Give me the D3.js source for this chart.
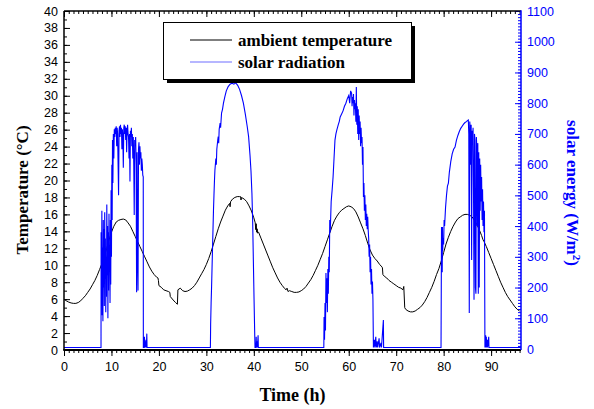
<!DOCTYPE html>
<html><head><meta charset="utf-8">
<script src="https://cdn.jsdelivr.net/npm/d3@7"></script>
<style>body{margin:0;background:#fff}svg{display:block}</style>
</head><body>
<svg id="c" width="594" height="409"></svg>
<script>
// ---------- data ----------
const timeTicks = [0,10,20,30,40,50,60,70,80,90];
const tempTicks = [0,2,4,6,8,10,12,14,16,18,20,22,24,26,28,30,32,34,36,38,40];
const solarTicks = [0,100,200,300,400,500,600,700,800,900,1000,1100];
const seriesNames = ["ambient temperature","solar radiation"];

// [time h, temperature °C]
const temperature = [
[0,6.0],[0.5,5.8],[1,5.65],[1.5,5.55],[2,5.5],[2.5,5.5],[3,5.6],[3.5,5.8],[4,6.1],[4.5,6.4],[5,6.8],[5.5,7.2],[6,7.7],[6.5,8.2],[7,8.8],[7.5,9.5],[8,10.2],[8.5,11.0],[9,12.0],[9.5,13.0],[10,13.9],[10.5,14.6],[11,15.1],[11.5,15.3],[12,15.4],[12.5,15.45],[13,15.35],[13.5,15.0],[14,14.6],[14.5,14.0],[15,13.4],[15.5,12.8],[16,12.2],[16.5,11.6],[17,11.0],[17.5,10.4],[18,9.8],[18.5,9.3],[19,8.9],[19.5,8.6],[19.8,8.5],[19.9,8.2],[20,7.6],[20.5,7.4],[21,7.1],[21.5,7.0],[22,6.9],[22.3,6.8],[22.4,6.3],[23,5.9],[23.5,5.6],[23.9,5.4],[24,7.1],[24.5,7.3],[25,7.0],[25.5,6.9],[26,6.95],[26.5,7.1],
[27,7.3],[27.5,7.6],[28,8.0],[28.5,8.5],[29,9.0],[29.5,9.5],[30,10.1],[30.5,10.8],[31,11.6],[31.5,12.5],[32,13.4],[32.5,14.3],[33,15.1],[33.5,15.8],[34,16.5],[34.5,17.0],[34.9,17.3],[35.0,16.9],[35.1,17.5],[35.5,17.8],[36,18.0],[36.5,18.1],[37,18.1],[37.2,18.1],[37.3,17.7],[37.4,18.0],[38,17.8],[38.5,17.5],[39,17.0],[39.5,16.4],[40,15.6],[40.3,15.0],[40.4,14.2],[40.5,14.9],[40.6,13.9],[40.7,14.3],[40.8,13.8],[41,13.9],[41.5,13.2],[42,12.5],[42.5,11.8],[43,11.1],[43.5,10.4],[44,9.7],[44.5,9.1],[45,8.5],[45.5,8.0],[46,7.6],[46.5,7.25],[46.8,7.1],[47,7.3],[47.2,6.9],[47.5,7.0],[48,6.9],[48.5,6.8],[49,6.8],[49.5,6.85],[50,7.0],[50.5,7.2],[51,7.5],[51.5,7.9],[52,8.3],[52.5,8.8],[53,9.4],[53.5,10.0],[54,10.7],[54.5,11.4],[55,12.2],[55.5,13.0],[56,13.8],[56.5,14.6],[57,15.3],[57.5,15.8],[58,16.2],[58.5,16.5],[59,16.7],[59.5,16.9],[60,17.0],[60.5,16.9],[61,16.7],[61.5,16.3],[62,15.7],[62.5,15.0],[63,14.3],[63.5,13.5],[64,12.6],[64.5,11.8],[65,11.2],[65.5,10.8],[66,10.5],[66.5,10.1],[67,9.8],[67.1,9.7],[67.2,8.9],[67.5,8.7],[68,8.5],[68.5,8.2],[69,8.0],[69.5,7.8],[70,7.6],[70.5,7.4],[71,7.3],[71.4,7.1],[71.6,7.5],[71.8,5.0],[72,4.8],[72.5,4.6],[73,4.5],[73.5,4.5],[74,4.6],[74.5,4.8],[75,5.0],[75.5,5.3],[76,5.7],[76.5,6.2],[77,6.8],[77.5,7.4],[78,8.1],[78.5,8.9],[79,9.6],[79.5,10.5],[80,11.5],[80.5,12.5],[81,13.3],[81.5,14.0],[82,14.6],[82.5,15.1],[83,15.5],[83.5,15.7],[84,15.9],[84.5,16.0],[85,16.0],[85.5,15.9],[86,15.7],[86.5,15.3],[87,14.8],[87.5,14.2],[88,13.5],[88.3,13.0],[88.5,12.8],[89,12.2],[89.5,11.5],[90,10.8],[90.5,10.1],[91,9.4],[91.5,8.7],[92,8.0],[92.5,7.4],[93,6.8],[93.5,6.3],[94,5.9],[94.5,5.5],[95,5.1],[95.5,4.8],[96,4.6]
];

// [time h, solar radiation W/m2]
const solar = [
[0,5],[7.75,5],
[7.8,5],[7.82,380],[7.9,150],[7.98,450],[8.05,110],[8.12,330],[8.2,90],[8.28,420],[8.35,200],[8.42,390],[8.5,140],[8.58,445],[8.65,230],[8.72,360],[8.8,120],[8.88,300],[8.95,170],[9.02,470],[9.1,240],[9.18,400],[9.25,100],[9.32,380],[9.4,190],[9.48,440],[9.55,260],[9.62,330],[9.7,150],[9.78,420],[9.85,210],[9.92,517],[10.0,300],[10.08,600],[10.15,420],[10.22,680],[10.3,540],[10.4,700],[10.5,620],[10.6,715],[10.7,690],[10.8,720],[10.9,700],[11.0,725],[11.1,660],[11.2,720],[11.3,700],[11.4,600],[11.5,500],[11.6,710],[11.7,725],[11.8,690],[11.9,730],[12.0,700],[12.1,720],[12.2,650],[12.3,715],[12.4,690],[12.5,590],[12.6,720],[12.7,730],[12.8,700],[12.9,725],[13.0,680],[13.1,720],[13.2,640],[13.3,710],[13.4,730],[13.5,700],[13.6,690],[13.7,620],[13.8,700],[13.9,545],[14.0,710],[14.1,690],[14.2,720],[14.3,660],[14.4,700],[14.5,620],[14.6,690],[14.7,600],[14.8,436],[14.9,680],[15.0,660],[15.1,690],[15.2,600],[15.3,185],[15.4,640],[15.5,300],[15.6,190],[15.7,650],[15.8,673],[15.9,600],[16.0,660],[16.1,620],[16.2,640],[16.3,580],[16.4,620],[16.5,600],[16.6,566],[16.7,560],[16.72,5],[16.9,5],[16.95,40],[17.0,5],[17.1,30],[17.15,5],[17.3,25],[17.35,5],[17.45,50],[17.5,5],[17.6,5],
[30.85,5],[30.9,80],[31.0,150],[31.1,203],[31.3,330],[31.5,452],[31.6,500],[31.7,545],[31.8,582],[32.0,620],[32.1,600],[32.2,650],[32.4,680],[32.5,691],[32.6,670],[32.7,715],[32.9,735],[33.0,720],[33.2,768],[33.4,780],[33.6,800],[33.9,821],[34.2,840],[34.6,854],[35.0,862],[35.4,865],[35.8,862],[36.2,866],[36.6,858],[37.0,845],[37.4,825],[37.8,800],[38.2,765],[38.6,725],[38.9,691],[39.2,630],[39.4,580],[39.6,507],[39.75,420],[39.9,290],[40.05,160],[40.2,40],[40.25,5],[40.45,5],[40.5,40],[40.55,5],[40.7,25],[40.75,5],[40.9,45],[40.95,5],[41.1,5],
[54.75,5],[54.8,104],[54.9,30],[55.0,150],[55.1,60],[55.2,247],[55.3,150],[55.4,230],[55.5,120],[55.6,260],[55.7,180],[55.8,300],[55.9,250],[56.0,420],[56.1,380],[56.3,480],[56.5,517],[56.7,560],[56.9,620],[57.1,680],[57.3,700],[57.5,713],[57.8,730],[58.0,740],[58.2,755],[58.5,765],[58.8,775],[59.1,790],[59.4,800],[59.7,815],[60.0,825],[60.2,800],[60.4,840],[60.6,833],[60.7,790],[60.8,820],[60.9,800],[61.0,830],[61.1,760],[61.2,810],[61.3,780],[61.4,800],[61.5,740],[61.6,853],[61.7,730],[61.8,790],[61.9,700],[62.0,780],[62.1,680],[62.2,760],[62.3,700],[62.4,740],[62.5,660],[62.6,720],[62.7,670],[62.8,690],[62.9,600],[63.0,657],[63.1,495],[63.2,540],[63.3,450],[63.4,500],[63.5,420],[63.6,470],[63.7,400],[63.8,440],[63.9,390],[64.0,430],[64.1,387],[64.2,360],[64.3,300],[64.4,340],[64.5,250],[64.6,300],[64.7,210],[64.8,260],[64.9,180],[65.0,220],[65.1,160],[65.2,5],[65.4,30],[65.5,5],[65.7,40],[65.8,5],[66.0,25],[66.1,5],[66.4,35],[66.5,5],[66.8,20],[66.9,5],[67.3,94],[67.35,5],[67.5,5],
[79.45,5],[79.5,200],[79.55,397],[79.6,300],[79.65,380],[79.7,250],[79.75,397],[79.8,320],[79.9,360],[80.0,340],[80.1,420],[80.2,400],[80.4,460],[80.6,500],[80.8,530],[81.0,540],[81.2,575],[81.5,610],[81.8,635],[82.1,650],[82.4,657],[82.7,680],[83.0,695],[83.3,708],[83.6,718],[83.9,725],[84.2,732],[84.5,737],[84.8,740],[85.0,743],[85.2,745],[85.3,700],[85.4,117],[85.5,740],[85.6,720],[85.7,600],[85.8,730],[85.9,290],[86.0,710],[86.1,680],[86.2,720],[86.3,500],[86.4,160],[86.5,700],[86.6,680],[86.7,200],[86.8,180],[86.9,690],[87.0,650],[87.1,400],[87.2,670],[87.3,180],[87.4,640],[87.5,200],[87.6,620],[87.7,450],[87.8,600],[87.9,480],[88.0,560],[88.1,420],[88.2,520],[88.3,400],[88.4,480],[88.5,380],[88.6,450],[88.7,5],[88.85,45],[88.9,5],[89.0,40],[89.05,5],[89.2,30],[89.25,5],[89.5,40],[89.55,5],[89.8,5],[96.3,5]
];

// ---------- drawing ----------
const svg = d3.select("#c");
const L=64, R=521, T=11, B=350;
const x = d3.scaleLinear().domain([0,96.3]).range([L,R]);
const yT = d3.scaleLinear().domain([0,40]).range([B,T]);
const yS = d3.scaleLinear().domain([0,1100]).range([B-1,T]);
const BLUE = "#0000ff";
const tickFont = "'Liberation Sans', Arial, sans-serif";
const serif = "'Liberation Serif', 'Times New Roman', serif";

svg.append("rect").attr("width",594).attr("height",409).attr("fill","#fff");

// black temperature line
svg.append("path").datum(temperature)
  .attr("fill","none").attr("stroke","#000").attr("stroke-width",1)
  .attr("d", d3.line().x(d=>x(d[0])).y(d=>yT(d[1])));
// blue solar line
svg.append("path").datum(solar)
  .attr("fill","none").attr("stroke",BLUE).attr("stroke-width",1.1)
  .attr("d", d3.line().x(d=>x(d[0])).y(d=>yS(d[1])));

function style(g, color, size){
  g.select(".domain").remove();
  g.selectAll("line").attr("stroke",color).attr("stroke-width",1);
  g.selectAll("text").attr("fill",color).style("font-family",tickFont).style("font-size",size+"px");
}

// left axis
const tMinor = d3.range(0,41,1);
style(svg.append("g").attr("transform",`translate(${L},0)`)
  .call(d3.axisLeft(yT).tickValues(tMinor).tickSize(-3).tickFormat("")), "#000", 12);
style(svg.append("g").attr("transform",`translate(${L},0)`)
  .call(d3.axisLeft(yT).tickValues(tempTicks).tickSize(-6).tickPadding(6).tickFormat(d3.format("d"))), "#000", 12.5);

// bottom axis
const hMinor = d3.range(0,97,1);
style(svg.append("g").attr("transform",`translate(0,${B})`)
  .call(d3.axisBottom(x).tickValues(hMinor).tickSize(3).tickFormat("")), "#000", 12);
style(svg.append("g").attr("transform",`translate(0,${B})`)
  .call(d3.axisBottom(x).tickValues(timeTicks).tickSize(6).tickPadding(6).tickFormat(d3.format("d"))), "#000", 12.5);

// top axis (ticks inward, no labels)
style(svg.append("g").attr("transform",`translate(0,${T})`)
  .call(d3.axisTop(x).tickValues(hMinor).tickSize(-3).tickFormat("")), "#000", 12);
style(svg.append("g").attr("transform",`translate(0,${T})`)
  .call(d3.axisTop(x).tickValues(timeTicks).tickSize(-6).tickFormat("")), "#000", 12);

// right axis (blue)
const sMinor = d3.range(0,1101,10);
style(svg.append("g").attr("transform",`translate(${R},0)`)
  .call(d3.axisRight(yS).tickValues(sMinor).tickSize(-3).tickFormat("")), BLUE, 12);
style(svg.append("g").attr("transform",`translate(${R},0)`)
  .call(d3.axisRight(yS).tickValues(solarTicks).tickSize(-6).tickPadding(6).tickFormat(d3.format("d"))), BLUE, 12.5);

// frame
svg.append("line").attr("x1",L).attr("x2",L).attr("y1",T).attr("y2",B).attr("stroke","#000").attr("stroke-width",1.5);
svg.append("line").attr("x1",L).attr("x2",R).attr("y1",T).attr("y2",T).attr("stroke","#000").attr("stroke-width",1.5);
svg.append("line").attr("x1",L-0.75).attr("x2",R).attr("y1",B).attr("y2",B).attr("stroke","#000").attr("stroke-width",2);
svg.append("line").attr("x1",R).attr("x2",R).attr("y1",T-0.75).attr("y2",B).attr("stroke",BLUE).attr("stroke-width",1.5);

// axis titles
svg.append("text").attr("transform","translate(28,190) rotate(-90)")
  .attr("text-anchor","middle").style("font-family",serif).style("font-weight","bold").style("font-size","17px")
  .text("Temperature (°C)");
svg.append("text").attr("x",(L+R)/2).attr("y",401)
  .attr("text-anchor","middle").style("font-family",serif).style("font-weight","bold").style("font-size","18px")
  .text("Time (h)");
const st = svg.append("text").attr("transform","translate(567,193) rotate(90)")
  .attr("text-anchor","middle").attr("fill",BLUE).style("font-family",serif).style("font-weight","bold").style("font-size","17px");
st.append("tspan").text("solar energy (W/m");
st.append("tspan").attr("baseline-shift","super").style("font-size","11px").text("2");
st.append("tspan").text(")");

// legend
const lg = svg.append("g");
lg.append("rect").attr("x",167).attr("y",26).attr("width",248).attr("height",57).attr("fill","#000");
lg.append("rect").attr("x",163.5).attr("y",22.5).attr("width",248).attr("height",57).attr("fill","#fff").attr("stroke","#000").attr("stroke-width",1);
const legColors = ["#000","#6f6fff"];
seriesNames.forEach((n,i)=>{
  const yy = 40 + i*22;
  lg.append("line").attr("x1",190).attr("x2",232).attr("y1",yy).attr("y2",yy).attr("stroke",legColors[i]).attr("stroke-width",1.2);
  lg.append("text").attr("x",238).attr("y",yy+5.5).style("font-family",serif).style("font-weight","bold").style("font-size","17px").attr("fill","#000").text(n);
});
</script>
</body></html>
